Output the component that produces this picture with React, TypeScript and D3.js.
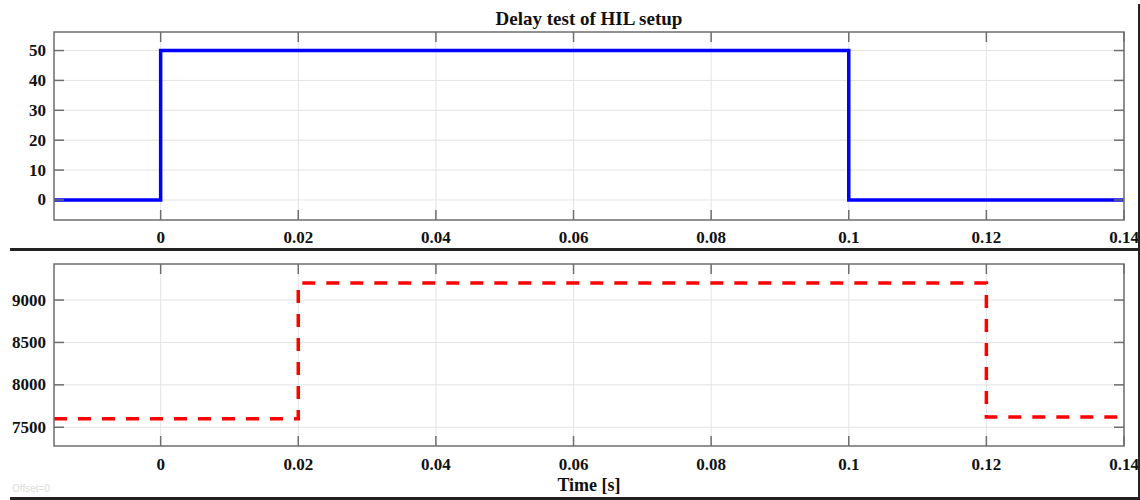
import React from "react";
import * as d3 from "d3";

const title = "Delay test of HIL setup";
const xLabel = "Time [s]";
const xDomain = [-0.0155, 0.14];
const xTicks = [0, 0.02, 0.04, 0.06, 0.08, 0.1, 0.12, 0.14];
const xTickLabels = ["0", "0.02", "0.04", "0.06", "0.08", "0.1", "0.12", "0.14"];

const topTimes = [-0.0155, 0, 0.1, 0.14];
const topValues = [0, 50, 0, 0];
const topYDomain = [-6.7, 56.2];
const topYTicks = [0, 10, 20, 30, 40, 50];

const botTimes = [-0.0155, 0.02, 0.12, 0.14];
const botValues = [7600, 9200, 7620, 7620];
const botYDomain = [7279, 9425];
const botYTicks = [7500, 8000, 8500, 9000];

const W = 1140;
const H = 500;
const left = 54;
const right = 1124;
const font = "'Liberation Serif', 'Times New Roman', serif";

type PanelProps = {
  top: number;
  bottom: number;
  yDomain: number[];
  yTicks: number[];
  times: number[];
  values: number[];
  color: string;
  dash?: string;
  labelY: number;
};

function Panel({ top, bottom, yDomain, yTicks, times, values, color, dash, labelY }: PanelProps) {
  const x = d3.scaleLinear().domain(xDomain).range([left, right]);
  const y = d3.scaleLinear().domain(yDomain).range([bottom, top]);
  const pts: [number, number][] = times.map((t, i) => [t, values[i]]);
  const line = d3
    .line<[number, number]>()
    .x((d) => x(d[0]))
    .y((d) => y(d[1]))
    .curve(d3.curveStepAfter);
  const tickLen = 10;
  const axisColor = "#6e6e6e";
  return (
    <g>
      {xTicks.map((t) => (
        <line key={"gx" + t} x1={x(t)} x2={x(t)} y1={top} y2={bottom} stroke="#e3e3e3" strokeWidth={1} />
      ))}
      {yTicks.map((v) => (
        <line key={"gy" + v} x1={left} x2={right} y1={y(v)} y2={y(v)} stroke="#e3e3e3" strokeWidth={1} />
      ))}
      <path d={line(pts) || ""} fill="none" stroke={color} strokeWidth={3.5} strokeDasharray={dash} />
      <rect x={left} y={top} width={right - left} height={bottom - top} fill="none" stroke={axisColor} strokeWidth={1.5} />
      {xTicks.map((t) => (
        <g key={"tx" + t}>
          <line x1={x(t)} x2={x(t)} y1={top} y2={top + tickLen} stroke={axisColor} strokeWidth={1.5} />
          <line x1={x(t)} x2={x(t)} y1={bottom} y2={bottom - tickLen} stroke={axisColor} strokeWidth={1.5} />
        </g>
      ))}
      {yTicks.map((v) => (
        <g key={"ty" + v}>
          <line x1={left} x2={left + tickLen} y1={y(v)} y2={y(v)} stroke={axisColor} strokeWidth={1.5} />
          <line x1={right} x2={right - tickLen} y1={y(v)} y2={y(v)} stroke={axisColor} strokeWidth={1.5} />
          <text
            x={left - 8}
            y={y(v)}
            textAnchor="end"
            dominantBaseline="central"
            fontFamily={font}
            fontWeight="bold"
            fontSize={17}
            fill="#111"
          >
            {v}
          </text>
        </g>
      ))}
      {xTicks.map((t, i) => (
        <text
          key={"lx" + t}
          x={x(t)}
          y={labelY}
          textAnchor="middle"
          fontFamily={font}
          fontWeight="bold"
          fontSize={17}
          fill="#111"
        >
          {xTickLabels[i]}
        </text>
      ))}
    </g>
  );
}

export default function App() {
  return (
    <svg
      width={W}
      height={H}
      style={{ position: "absolute", left: 0, top: 0, background: "#fff" }}
    >
      <rect x={0} y={0} width={W} height={H} fill="#fff" />
      <text x={589} y={25} textAnchor="middle" fontFamily={font} fontWeight="bold" fontSize={19} fill="#111">
        {title}
      </text>
      <Panel
        top={32}
        bottom={220}
        yDomain={topYDomain}
        yTicks={topYTicks}
        times={topTimes}
        values={topValues}
        color="#0000ff"
        labelY={243}
      />
      <Panel
        top={264}
        bottom={446}
        yDomain={botYDomain}
        yTicks={botYTicks}
        times={botTimes}
        values={botValues}
        color="#ff0000"
        dash="13 11"
        labelY={470}
      />
      <text x={589} y={491} textAnchor="middle" fontFamily={font} fontWeight="bold" fontSize={18} fill="#111">
        {xLabel}
      </text>
      <text x={12} y={492} fontFamily="'Liberation Sans', sans-serif" fontSize={10} fill="#dcdcdc">
        Offset=0
      </text>
      <line x1={10} x2={1140} y1={249.5} y2={249.5} stroke="#222" strokeWidth={3} />
      <line x1={10} x2={1140} y1={498.5} y2={498.5} stroke="#222" strokeWidth={3} />
      <line x1={1139} x2={1139} y1={4} y2={500} stroke="#222" strokeWidth={2} />
    </svg>
  );
}
